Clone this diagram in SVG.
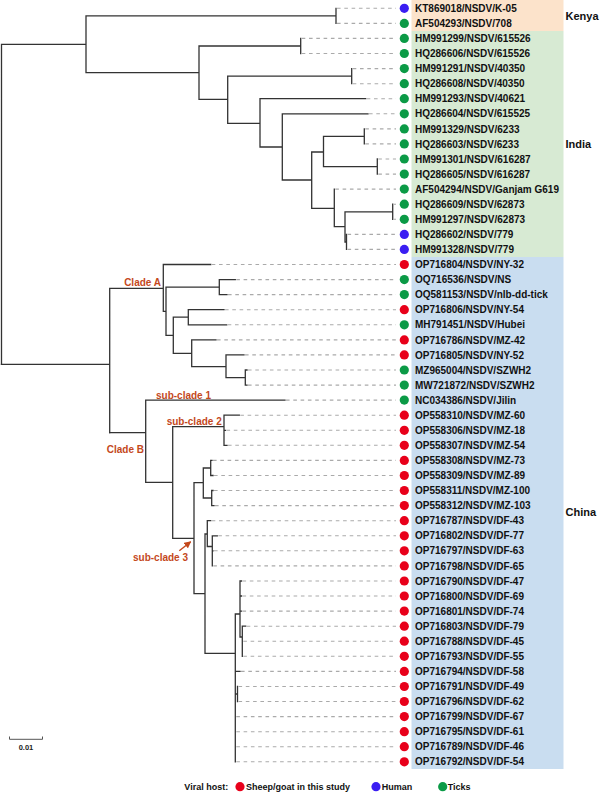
<svg xmlns="http://www.w3.org/2000/svg" width="600" height="794" viewBox="0 0 600 794">
<defs>
<style>
.br{fill:none;stroke:#333;stroke-width:1.3;stroke-linecap:square}
.ld{fill:none;stroke:#aaa;stroke-width:1.1;stroke-dasharray:3.6 3.7}
.lb{font-family:"Liberation Sans",Arial,sans-serif;font-weight:bold;font-size:10px;fill:#111}
.rg{font-family:"Liberation Sans",Arial,sans-serif;font-weight:bold;font-size:11px;fill:#111}
.cl{font-family:"Liberation Sans",Arial,sans-serif;font-weight:bold;font-size:10px;fill:#C4481C}
.lg{font-family:"Liberation Sans",Arial,sans-serif;font-weight:bold;font-size:9px;fill:#111}
.r{fill:#E8001A}.b{fill:#3A1EF2}.g{fill:#0B9A46}
</style>
<marker id="ah" viewBox="0 0 10 10" refX="9" refY="5" markerWidth="5" markerHeight="5" orient="auto">
<path d="M0,0 L10,5 L0,10 z" fill="#C4481C"/>
</marker>
</defs>
<rect width="600" height="794" fill="#fff"/>
<g id="regions">
<rect x="411.5" y="0" width="152" height="31" fill="#FCE3CB"/>
<rect x="411.5" y="31" width="152" height="226" fill="#D7EAD3"/>
<rect x="411.5" y="257" width="152" height="512" fill="#C9DDF0"/>
<text class="rg" x="565.5" y="20">Kenya</text>
<text class="rg" x="565.5" y="147.5">India</text>
<text class="rg" x="565.5" y="515.5">China</text>
</g>
<g id="connectors">
<path class="br" d="M1.5,44.3V364.3M1.5,44.3H86M86,15.8V72.7M86,15.8H336M336,8.3V23.4M86,72.7H199M199,46V99.3M199,46H300.7M300.7,38.4V53.5M199,99.3H227.7M227.7,76.2V123.3M227.7,76.2H351.7M351.7,68.6V83.7M227.7,123.3H260M260,98.7V147M260,98.7H365.7M260,147H282.3M282.3,113.8V180M282.3,113.8H368M282.3,180H311.7M311.7,152V208.3M311.7,152H323.5M323.5,136.4V166.6M323.5,136.4H364.3M364.3,128.9V143.9M323.5,166.6H377.3M377.3,159V174.1M311.7,208.3H334.3M334.3,189.1V226.7M334.3,226.7H345M345,211.8V242M345,211.8H392.7M392.7,204.2V219.3M345,242H346.5M346.5,234.4V249.4"/>
<path class="br" d="M1.5,364.3H109.7M109.7,288.3V432.7M109.7,288.3H163.3M163.3,264.5V311.3M163.3,264.5H210.7M163.3,311.3H166M166,287.1V335.3M166,287.1H219.3M219.3,279.6V294.6M219.3,279.6H235.3M219.3,294.6H227M166,335.3H173.3M173.3,317.2V353.3M173.3,317.2H188.3M188.3,309.7V324.8M188.3,309.7H224M188.3,324.8H226.7M173.3,353.3H191.7M191.7,339.9V366.7M191.7,339.9H216M191.7,366.7H226M226,354.9V377.6M226,354.9H244M226,377.6H245.3M245.3,370V385.1M245.3,370H247M245.3,385.1H247"/>
<path class="br" d="M109.7,432.7H145.7M145.7,400.1V482.3M145.7,400.1H285M145.7,482.3H172.7M172.7,426.7V538.3M172.7,426.7H224M224,415.2V445.3M224,415.2H239.3M224,430.3H225.5M224,445.3H227M172.7,538.3H194M194,482.7V593.7M194,482.7H203.3M203.3,468V498M203.3,468H210.7M210.7,460.4V475.5M210.7,460.4H212M210.7,475.5H213M203.3,498H211.7M211.7,490.5V505.6M211.7,490.5H213M211.7,505.6H214M194,593.7H205M205,534V653.3M205,534H207.3M207.3,520.7V546.5M207.3,520.7H210.7M207.3,546.5H212.3M212.3,535.8V565.9M212.3,535.8H217.3M212.3,550.8H213M205,653.3H235.3M235.3,614V761.8M235.3,614H240M240,581V637M240,581H241.5M240,596H241.5M240,611.1H241.5M240,637H242.3M242.3,626.2V656.3M242.3,626.2H245.7M235.3,671.4H240M235.3,694H237.5M237.5,686.5V701.5"/>
<path class="ld" d="M337,8.3H396M337,23.4H396M301.7,38.4H396M301.7,53.5H396M352.7,68.6H396M352.7,83.7H396M366.7,98.7H396M369,113.8H396M365.3,128.9H396M365.3,143.9H396M378.3,159H396M378.3,174.1H396M335.3,189.1H396M393.7,204.2H396M393.7,219.3H396M347.5,234.4H396M347.5,249.4H396M211.7,264.5H396M236.3,279.6H396M228,294.6H396M225,309.7H396M227.7,324.8H396M217,339.9H396M245,354.9H396M248,370H396M248,385.1H396M286,400.1H396M240.3,415.2H396M226.5,430.3H396M228,445.3H396M213,460.4H396M214,475.5H396M214,490.5H396M215,505.6H396M211.7,520.7H396M218.3,535.8H396M214,550.8H396M213.3,565.9H396M242.5,581H396M242.5,596H396M242.5,611.1H396M246.7,626.2H396M243.3,641.2H396M243.3,656.3H396M241,671.4H396M238.5,686.5H396M238.5,701.5H396M236.3,716.6H396M236.3,731.7H396M236.3,746.7H396M236.3,761.8H396"/>
<line x1="179.3" y1="550.7" x2="190.7" y2="541.7" stroke="#C4481C" stroke-width="1.4" marker-end="url(#ah)"/>
</g>
<g id="clade-labels">
<text class="cl" x="161" y="285.5" text-anchor="end">Clade A</text>
<text class="cl" x="144" y="452.5" text-anchor="end">Clade B</text>
<text class="cl" x="156" y="398.5">sub-clade 1</text>
<text class="cl" x="166.7" y="424.5">sub-clade 2</text>
<text class="cl" x="188" y="561" text-anchor="end">sub-clade 3</text>
</g>
<g id="leaf-0"><circle class="b" cx="404.3" cy="8.3" r="4.6"/><text class="lb" x="415" y="11.9">KT869018/NSDV/K-05</text></g>
<g id="leaf-1"><circle class="g" cx="404.3" cy="23.4" r="4.6"/><text class="lb" x="415" y="27">AF504293/NSDV/708</text></g>
<g id="leaf-2"><circle class="g" cx="404.3" cy="38.4" r="4.6"/><text class="lb" x="415" y="42">HM991299/NSDV/615526</text></g>
<g id="leaf-3"><circle class="g" cx="404.3" cy="53.5" r="4.6"/><text class="lb" x="415" y="57.1">HQ286606/NSDV/615526</text></g>
<g id="leaf-4"><circle class="g" cx="404.3" cy="68.6" r="4.6"/><text class="lb" x="415" y="72.2">HM991291/NSDV/40350</text></g>
<g id="leaf-5"><circle class="g" cx="404.3" cy="83.7" r="4.6"/><text class="lb" x="415" y="87.3">HQ286608/NSDV/40350</text></g>
<g id="leaf-6"><circle class="g" cx="404.3" cy="98.7" r="4.6"/><text class="lb" x="415" y="102.3">HM991293/NSDV/40621</text></g>
<g id="leaf-7"><circle class="g" cx="404.3" cy="113.8" r="4.6"/><text class="lb" x="415" y="117.4">HQ286604/NSDV/615525</text></g>
<g id="leaf-8"><circle class="g" cx="404.3" cy="128.9" r="4.6"/><text class="lb" x="415" y="132.5">HM991329/NSDV/6233</text></g>
<g id="leaf-9"><circle class="g" cx="404.3" cy="143.9" r="4.6"/><text class="lb" x="415" y="147.5">HQ286603/NSDV/6233</text></g>
<g id="leaf-10"><circle class="g" cx="404.3" cy="159" r="4.6"/><text class="lb" x="415" y="162.6">HM991301/NSDV/616287</text></g>
<g id="leaf-11"><circle class="g" cx="404.3" cy="174.1" r="4.6"/><text class="lb" x="415" y="177.7">HQ286605/NSDV/616287</text></g>
<g id="leaf-12"><circle class="g" cx="404.3" cy="189.1" r="4.6"/><text class="lb" x="415" y="192.7">AF504294/NSDV/Ganjam G619</text></g>
<g id="leaf-13"><circle class="g" cx="404.3" cy="204.2" r="4.6"/><text class="lb" x="415" y="207.8">HQ286609/NSDV/62873</text></g>
<g id="leaf-14"><circle class="g" cx="404.3" cy="219.3" r="4.6"/><text class="lb" x="415" y="222.9">HM991297/NSDV/62873</text></g>
<g id="leaf-15"><circle class="b" cx="404.3" cy="234.4" r="4.6"/><text class="lb" x="415" y="238">HQ286602/NSDV/779</text></g>
<g id="leaf-16"><circle class="b" cx="404.3" cy="249.4" r="4.6"/><text class="lb" x="415" y="253">HM991328/NSDV/779</text></g>
<g id="leaf-17"><circle class="r" cx="404.3" cy="264.5" r="4.6"/><text class="lb" x="415" y="268.1">OP716804/NSDV/NY-32</text></g>
<g id="leaf-18"><circle class="g" cx="404.3" cy="279.6" r="4.6"/><text class="lb" x="415" y="283.2">OQ716536/NSDV/NS</text></g>
<g id="leaf-19"><circle class="g" cx="404.3" cy="294.6" r="4.6"/><text class="lb" x="415" y="298.2">OQ581153/NSDV/nlb-dd-tick</text></g>
<g id="leaf-20"><circle class="r" cx="404.3" cy="309.7" r="4.6"/><text class="lb" x="415" y="313.3">OP716806/NSDV/NY-54</text></g>
<g id="leaf-21"><circle class="g" cx="404.3" cy="324.8" r="4.6"/><text class="lb" x="415" y="328.4">MH791451/NSDV/Hubei</text></g>
<g id="leaf-22"><circle class="r" cx="404.3" cy="339.9" r="4.6"/><text class="lb" x="415" y="343.5">OP716786/NSDV/MZ-42</text></g>
<g id="leaf-23"><circle class="r" cx="404.3" cy="354.9" r="4.6"/><text class="lb" x="415" y="358.5">OP716805/NSDV/NY-52</text></g>
<g id="leaf-24"><circle class="g" cx="404.3" cy="370" r="4.6"/><text class="lb" x="415" y="373.6">MZ965004/NSDV/SZWH2</text></g>
<g id="leaf-25"><circle class="g" cx="404.3" cy="385.1" r="4.6"/><text class="lb" x="415" y="388.7">MW721872/NSDV/SZWH2</text></g>
<g id="leaf-26"><circle class="g" cx="404.3" cy="400.1" r="4.6"/><text class="lb" x="415" y="403.7">NC034386/NSDV/Jilin</text></g>
<g id="leaf-27"><circle class="r" cx="404.3" cy="415.2" r="4.6"/><text class="lb" x="415" y="418.8">OP558310/NSDV/MZ-60</text></g>
<g id="leaf-28"><circle class="r" cx="404.3" cy="430.3" r="4.6"/><text class="lb" x="415" y="433.9">OP558306/NSDV/MZ-18</text></g>
<g id="leaf-29"><circle class="r" cx="404.3" cy="445.3" r="4.6"/><text class="lb" x="415" y="448.9">OP558307/NSDV/MZ-54</text></g>
<g id="leaf-30"><circle class="r" cx="404.3" cy="460.4" r="4.6"/><text class="lb" x="415" y="464">OP558308/NSDV/MZ-73</text></g>
<g id="leaf-31"><circle class="r" cx="404.3" cy="475.5" r="4.6"/><text class="lb" x="415" y="479.1">OP558309/NSDV/MZ-89</text></g>
<g id="leaf-32"><circle class="r" cx="404.3" cy="490.5" r="4.6"/><text class="lb" x="415" y="494.1">OP558311/NSDV/MZ-100</text></g>
<g id="leaf-33"><circle class="r" cx="404.3" cy="505.6" r="4.6"/><text class="lb" x="415" y="509.2">OP558312/NSDV/MZ-103</text></g>
<g id="leaf-34"><circle class="r" cx="404.3" cy="520.7" r="4.6"/><text class="lb" x="415" y="524.3">OP716787/NSDV/DF-43</text></g>
<g id="leaf-35"><circle class="r" cx="404.3" cy="535.8" r="4.6"/><text class="lb" x="415" y="539.4">OP716802/NSDV/DF-77</text></g>
<g id="leaf-36"><circle class="r" cx="404.3" cy="550.8" r="4.6"/><text class="lb" x="415" y="554.4">OP716797/NSDV/DF-63</text></g>
<g id="leaf-37"><circle class="r" cx="404.3" cy="565.9" r="4.6"/><text class="lb" x="415" y="569.5">OP716798/NSDV/DF-65</text></g>
<g id="leaf-38"><circle class="r" cx="404.3" cy="581" r="4.6"/><text class="lb" x="415" y="584.6">OP716790/NSDV/DF-47</text></g>
<g id="leaf-39"><circle class="r" cx="404.3" cy="596" r="4.6"/><text class="lb" x="415" y="599.6">OP716800/NSDV/DF-69</text></g>
<g id="leaf-40"><circle class="r" cx="404.3" cy="611.1" r="4.6"/><text class="lb" x="415" y="614.7">OP716801/NSDV/DF-74</text></g>
<g id="leaf-41"><circle class="r" cx="404.3" cy="626.2" r="4.6"/><text class="lb" x="415" y="629.8">OP716803/NSDV/DF-79</text></g>
<g id="leaf-42"><circle class="r" cx="404.3" cy="641.2" r="4.6"/><text class="lb" x="415" y="644.8">OP716788/NSDV/DF-45</text></g>
<g id="leaf-43"><circle class="r" cx="404.3" cy="656.3" r="4.6"/><text class="lb" x="415" y="659.9">OP716793/NSDV/DF-55</text></g>
<g id="leaf-44"><circle class="r" cx="404.3" cy="671.4" r="4.6"/><text class="lb" x="415" y="675">OP716794/NSDV/DF-58</text></g>
<g id="leaf-45"><circle class="r" cx="404.3" cy="686.5" r="4.6"/><text class="lb" x="415" y="690.1">OP716791/NSDV/DF-49</text></g>
<g id="leaf-46"><circle class="r" cx="404.3" cy="701.5" r="4.6"/><text class="lb" x="415" y="705.1">OP716796/NSDV/DF-62</text></g>
<g id="leaf-47"><circle class="r" cx="404.3" cy="716.6" r="4.6"/><text class="lb" x="415" y="720.2">OP716799/NSDV/DF-67</text></g>
<g id="leaf-48"><circle class="r" cx="404.3" cy="731.7" r="4.6"/><text class="lb" x="415" y="735.3">OP716795/NSDV/DF-61</text></g>
<g id="leaf-49"><circle class="r" cx="404.3" cy="746.7" r="4.6"/><text class="lb" x="415" y="750.3">OP716789/NSDV/DF-46</text></g>
<g id="leaf-50"><circle class="r" cx="404.3" cy="761.8" r="4.6"/><text class="lb" x="415" y="765.4">OP716792/NSDV/DF-54</text></g>
<g id="scale-bar">
<path d="M9.5,736.5V739.3H42.5V736.5" fill="none" stroke="#555" stroke-width="1"/>
<text x="26" y="750.3" text-anchor="middle" font-family="Liberation Sans, Arial, sans-serif" font-weight="bold" font-size="7.5" fill="#222">0.01</text>
</g>
<g id="legend">
<text class="lg" x="184.3" y="789.8">Viral host:</text>
<circle class="r" cx="240" cy="786.7" r="4.6"/>
<text class="lg" x="246" y="789.8">Sheep/goat in this study</text>
<circle class="b" cx="376" cy="786.7" r="4.6"/>
<text class="lg" x="381.7" y="789.8">Human</text>
<circle class="g" cx="442.7" cy="786.7" r="4.6"/>
<text class="lg" x="447.7" y="789.8">Ticks</text>
</g>
</svg>
